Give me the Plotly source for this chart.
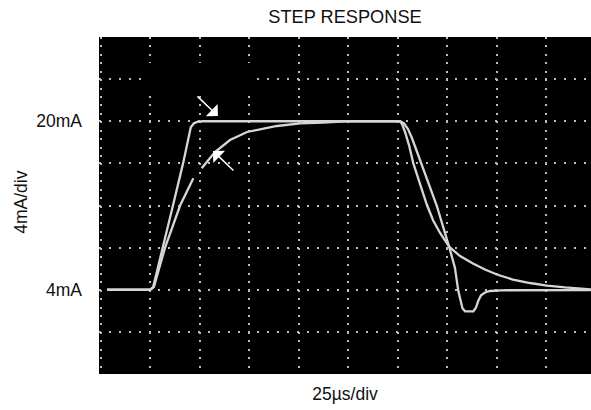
import plotly.graph_objects as go

# ---- data (time in microseconds, current in mA) ----
fast_t = [-21.7, 0.0, 1.5, 6.6, 11.6, 16.7, 20.6, 22.2, 24.2, 26.8,
          126.3, 128.3, 130.3, 132.3, 134.3, 137.2, 144.8, 151.2, 154.0, 155.7, 156.8, 157.8,
          159.1, 163.3, 164.6, 165.8, 167.2, 169.2, 171.7, 176.8, 222.7]
fast_i = [4.0, 4.0, 4.19, 8.0, 12.0, 16.0, 19.43, 19.81, 19.97, 20.0,
          20.0, 19.79, 19.26, 18.41, 17.36, 16.0, 12.0, 8.0, 6.1, 3.9, 2.86, 2.24,
          1.95, 1.95, 2.29, 2.95, 3.48, 3.74, 3.88, 3.95, 3.97]

slow_t = [-21.7, 0.0, 2.0, 7.6, 15.2, 21.9, None, 26.1, 32.8, 40.4, 49.0,
          64.1, 75.8, 87.4, 98.5, 126.3,
          127.3, 128.8, 130.8, 133.0, 136.4, 139.7, 142.9, 146.5, 151.2, 156.6,
          163.1, 169.2, 175.2, 183.3, 191.9, 200.5, 209.6, 215.7, 222.7]
slow_i = [4.0, 4.0, 4.29, 8.0, 12.0, 14.58, None, 15.53, 17.08, 18.22, 18.98,
          19.55, 19.79, 19.88, 19.98, 20.0,
          19.74, 18.98, 17.74, 16.0, 14.04, 12.14, 10.62, 9.39, 8.06, 7.2,
          6.49, 5.92, 5.45, 4.97, 4.64, 4.40, 4.23, 4.13, 4.04]

tick_vals = [0, 4, 8, 12, 16, 20, 24]
tick_text = ["", "4mA", "", "", "", "20mA", ""]

x_range = [-25.76, 222.73]
y_range = [-4.0, 28.0]

FONT = "Liberation Sans, Arial, sans-serif"
TEXT = "#111111"
TRACE_COLOR = "#d6d6d6"
GRID_COLOR = "#bcbcbc"

fig = go.Figure()
fig.add_trace(go.Scatter(x=fast_t, y=fast_i, mode="lines",
                         line=dict(color=TRACE_COLOR, width=2.3),
                         connectgaps=False, showlegend=False, hoverinfo="skip"))
fig.add_trace(go.Scatter(x=slow_t, y=slow_i, mode="lines",
                         line=dict(color=TRACE_COLOR, width=2.3),
                         connectgaps=False, showlegend=False, hoverinfo="skip"))

# black patch that hides part of the graticule (as in the original scope shot)
fig.add_shape(type="rect", xref="x", yref="y", x0=-3.5, x1=52.5, y0=22.68, y1=25.53,
              fillcolor="black", line=dict(width=0), layer="between")

# arrows
fig.add_annotation(x=34.3, y=20.5, xref="x", yref="y", ax=-22, ay=-21,
                   showarrow=True, arrowhead=1, arrowsize=1.9, arrowwidth=1.5,
                   arrowcolor="white", text="", standoff=0)
fig.add_annotation(x=31.8, y=17.18, xref="x", yref="y", ax=22, ay=21,
                   showarrow=True, arrowhead=1, arrowsize=1.9, arrowwidth=1.5,
                   arrowcolor="white", text="", standoff=0)

# y-axis title
fig.add_annotation(text="4mA/div", xref="paper", yref="paper", x=(20.7 - 99) / 492, y=0.51,
                   xanchor="center", yanchor="middle", textangle=-90, showarrow=False,
                   font=dict(family=FONT, size=17.5, color=TEXT))

fig.update_layout(
    width=591, height=410,
    margin=dict(l=99, r=0, t=37, b=36),
    paper_bgcolor="white", plot_bgcolor="black",
    font=dict(family=FONT, size=17.5, color=TEXT),
    title=dict(text="STEP RESPONSE", x=345 / 591, xref="container", xanchor="center",
               y=1 - 16.5 / 410, yref="container", yanchor="middle",
               font=dict(family=FONT, size=18.2, color=TEXT)),
    showlegend=False,
)
fig.update_xaxes(range=x_range, dtick=25, tick0=0, showticklabels=False,
                 showgrid=True, gridcolor=GRID_COLOR, gridwidth=2,
                 griddash="2px,6.425px", zeroline=False, showline=False, ticks="",
                 automargin=False,
                 title=dict(text="25µs/div", standoff=13,
                            font=dict(family=FONT, size=17.5, color=TEXT)),
                 fixedrange=True)
fig.update_yaxes(range=y_range, tickvals=tick_vals, ticktext=tick_text,
                 showgrid=True, gridcolor=GRID_COLOR, gridwidth=2,
                 griddash="2px,7.9px", zeroline=False, showline=False, ticks="",
                 ticklabelstandoff=16, automargin=False,
                 tickfont=dict(family=FONT, size=17.5, color=TEXT),
                 fixedrange=True)

fig.write_html("out.html", config={"displayModeBar": False},
               post_script="document.body.style.margin='0';document.body.style.overflow='hidden';")
